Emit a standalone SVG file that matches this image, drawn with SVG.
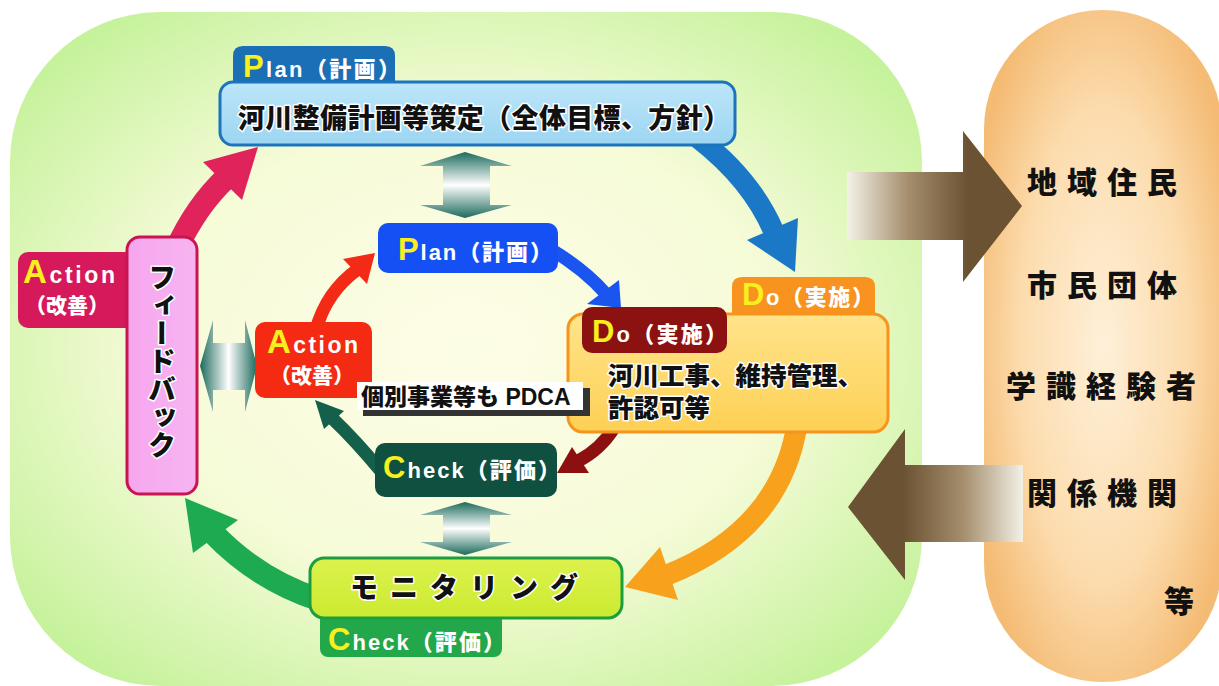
<svg xmlns="http://www.w3.org/2000/svg" width="1219" height="686" viewBox="0 0 1219 686">
<defs>
<radialGradient id="bgG" cx="0.5" cy="0.5" r="0.62">
<stop offset="0" stop-color="#fdfde6"/><stop offset="0.55" stop-color="#f6fbd8"/><stop offset="1" stop-color="#c6f29c"/>
</radialGradient>
<radialGradient id="pillG" cx="0.5" cy="0.5" r="0.58">
<stop offset="0" stop-color="#fef0d8"/><stop offset="0.6" stop-color="#fcdcae"/><stop offset="1" stop-color="#f4bb74"/>
</radialGradient>
<linearGradient id="brR" gradientUnits="userSpaceOnUse" x1="848" y1="0" x2="968" y2="0">
<stop offset="0" stop-color="#f3f0e6"/><stop offset="0.5" stop-color="#a48e6c"/><stop offset="1" stop-color="#6b5232"/>
</linearGradient>
<linearGradient id="brL" gradientUnits="userSpaceOnUse" x1="903" y1="0" x2="1023" y2="0">
<stop offset="0" stop-color="#6b5232"/><stop offset="0.5" stop-color="#a48e6c"/><stop offset="1" stop-color="#f3f0e6"/>
</linearGradient>
<linearGradient id="dvT" gradientUnits="userSpaceOnUse" x1="0" y1="152" x2="0" y2="218">
<stop offset="0" stop-color="#1d6b5c"/><stop offset="0.5" stop-color="#ffffff"/><stop offset="1" stop-color="#1d6b5c"/>
</linearGradient>
<linearGradient id="dvB" gradientUnits="userSpaceOnUse" x1="0" y1="502" x2="0" y2="555">
<stop offset="0" stop-color="#1d6b5c"/><stop offset="0.5" stop-color="#ffffff"/><stop offset="1" stop-color="#1d6b5c"/>
</linearGradient>
<linearGradient id="dh" gradientUnits="userSpaceOnUse" x1="200" y1="0" x2="257" y2="0">
<stop offset="0" stop-color="#1d6b5c"/><stop offset="0.5" stop-color="#ffffff"/><stop offset="1" stop-color="#1d6b5c"/>
</linearGradient>
<linearGradient id="planG" x1="0" y1="0" x2="0" y2="1">
<stop offset="0" stop-color="#bde6f9"/><stop offset="1" stop-color="#9cd5f2"/>
</linearGradient>
<linearGradient id="doG" x1="0" y1="0" x2="0" y2="1">
<stop offset="0" stop-color="#ffe48a"/><stop offset="1" stop-color="#fdd055"/>
</linearGradient>
<linearGradient id="fbG" x1="0" y1="0" x2="1" y2="0">
<stop offset="0" stop-color="#f6a6ee"/><stop offset="1" stop-color="#f7b4f1"/>
</linearGradient>
<linearGradient id="monG" x1="0" y1="0" x2="0" y2="1">
<stop offset="0" stop-color="#ddf24e"/><stop offset="1" stop-color="#cbea30"/>
</linearGradient>
</defs>
<style>
.t{font-family:"Liberation Sans","Noto Sans CJK JP",sans-serif;font-weight:900}
.jp{font-family:"Noto Sans CJK JP",sans-serif;font-weight:900}
.w{fill:#fff}
.cap{fill:#f8ef1e}
.halo{fill:#111;stroke:#fff;stroke-width:3;paint-order:stroke;stroke-linejoin:round}
.side{fill:#111;font-size:30px;letter-spacing:10px}
.shaft{fill:none;stroke-linecap:butt}
</style>

<g id="background">
<rect x="10" y="12" width="912" height="674" rx="150" fill="url(#bgG)"/>
</g>

<g id="stakeholders">
<rect x="984" y="10" width="238" height="672" rx="119" fill="url(#pillG)"/>
<text class="jp side" x="1027" y="193">地域住民</text>
<text class="jp side" x="1027" y="296">市民団体</text>
<text class="jp side" x="1006" y="397">学識経験者</text>
<text class="jp side" x="1027" y="504">関係機関</text>
<text class="jp side" x="1164" y="612">等</text>
</g>

<g id="connectors">
<polygon points="847,172 963,172 963,131 1022,206 963,282 963,240 847,240" fill="url(#brR)"/>
<polygon points="1023,465 905,465 905,429 848,507 905,580 905,542 1023,542" fill="url(#brL)"/>

<polygon points="465,152 512,166 490,166 490,205 512,205 465,218 420,205 443,205 443,166 420,166" fill="url(#dvT)"/>
<polygon points="465,502 512,515 490,515 490,542 512,542 465,555 420,542 443,542 443,515 420,515" fill="url(#dvB)"/>
<polygon points="200,366 213,320 213,343 245,343 245,320 257,366 245,412 245,390 213,390 213,412" fill="url(#dh)"/>

<path class="shaft" d="M176,250 Q196,206 227,177" stroke="#e0235b" stroke-width="23"/>
<polygon points="258,147 203,162 242,200" fill="#e0235b"/>
<path class="shaft" d="M698,138 Q752,180 774,232" stroke="#1a78c6" stroke-width="21"/>
<polygon points="795,272 747,240 798,218" fill="#1a78c6"/>
<path class="shaft" d="M797,425 Q780,530 667,575" stroke="#f8a11c" stroke-width="21"/>
<polygon points="625,587 660,547 678,600" fill="#f8a11c"/>
<path class="shaft" d="M320,600 Q258,580 213,533" stroke="#1eaa50" stroke-width="23"/>
<polygon points="185,498 193,553 238,520" fill="#1eaa50"/>

<path class="shaft" d="M316,330 Q326,292 358,269" stroke="#f22a16" stroke-width="13"/>
<polygon points="375,253 343,259 367,284" fill="#f22a16"/>
<path class="shaft" d="M552,250 Q585,270 606,294" stroke="#1a55f0" stroke-width="13"/>
<polygon points="621,308 587,304 619,280" fill="#1a55f0"/>
<path class="shaft" d="M614,428 Q600,450 578,461" stroke="#8c1010" stroke-width="13"/>
<polygon points="557,473 572,447 589,473" fill="#8c1010"/>
<path class="shaft" d="M380,470 Q355,440 333,419" stroke="#15604a" stroke-width="13"/>
<polygon points="315,400 324,429 344,411" fill="#15604a"/>
</g>

<g id="plan-outer">
<path d="M233,86 V56 Q233,46 243,46 H385 Q395,46 395,56 V86 Z" fill="#1a6fb5"/>
<rect x="220" y="82" width="515" height="63" rx="13" fill="url(#planG)" stroke="#1b74bc" stroke-width="3"/>
<text class="t w" x="243" y="77" font-size="22" textLength="157" lengthAdjust="spacing"><tspan class="cap" font-size="31">P</tspan>lan（計画）</text>
<text class="jp halo" x="238" y="128" font-size="27" textLength="492" lengthAdjust="spacing">河川整備計画等策定（全体目標、方針）</text>
</g>

<g id="action-outer">
<rect x="18" y="252" width="130" height="76" rx="10" fill="#d6195a"/>
<text class="t w" x="23" y="283" font-size="23" textLength="92" lengthAdjust="spacing"><tspan class="cap" font-size="33">A</tspan>ction</text>
<text class="jp w" x="67" y="313" font-size="21" text-anchor="middle">（改善）</text>
</g>

<g id="feedback">
<rect x="127" y="237" width="70" height="257" rx="13" fill="url(#fbG)" stroke="#c81450" stroke-width="3"/>
<text class="jp halo" x="162" y="263" font-size="28" style="writing-mode:vertical-rl">フィードバック</text>
</g>

<g id="do-outer">
<path d="M732,318 V287 Q732,277 742,277 H865 Q875,277 875,287 V318 Z" fill="#f7931e"/>
<rect x="568" y="314" width="320" height="118" rx="15" fill="url(#doG)" stroke="#f7941d" stroke-width="3"/>
<text class="t w" x="742" y="305" font-size="22" textLength="132" lengthAdjust="spacing"><tspan class="cap" font-size="31">D</tspan>o（実施）</text>
<text class="t halo" x="608" y="385" font-size="25.5">河川工事、維持管理、</text>
<text class="t halo" x="608" y="417" font-size="25.5">許認可等</text>
</g>

<g id="do-inner">
<rect x="582" y="307" width="145" height="46" rx="10" fill="#8c1111"/>
<text class="t w" x="592" y="342" font-size="22" textLength="135" lengthAdjust="spacing"><tspan class="cap" font-size="31">D</tspan>o（実施）</text>
</g>

<g id="plan-inner">
<rect x="378" y="223" width="180" height="50" rx="10" fill="#1550f5"/>
<text class="t w" x="398" y="260" font-size="22" textLength="154" lengthAdjust="spacing"><tspan class="cap" font-size="31">P</tspan>lan（計画）</text>
</g>

<g id="action-inner">
<rect x="255" y="322" width="117" height="76" rx="10" fill="#f42a12"/>
<text class="t w" x="267" y="353" font-size="23" textLength="91" lengthAdjust="spacing"><tspan class="cap" font-size="33">A</tspan>ction</text>
<text class="jp w" x="312" y="383" font-size="21" text-anchor="middle">（改善）</text>
</g>

<g id="check-inner">
<rect x="375" y="443" width="182" height="54" rx="10" fill="#0f5040"/>
<text class="t w" x="383" y="478" font-size="22" textLength="177" lengthAdjust="spacing"><tspan class="cap" font-size="31">C</tspan>heck（評価）</text>
</g>

<g id="pdca-label">
<rect x="363" y="388" width="227" height="28" fill="#333"/>
<rect x="357" y="382" width="226" height="28" fill="#fff"/>
<text class="t" x="361" y="405" font-size="23" fill="#111">個別事業等も PDCA</text>
</g>

<g id="monitoring">
<rect x="320" y="600" width="182" height="57" rx="8" fill="#22a84a"/>
<rect x="310" y="558" width="312" height="60" rx="14" fill="url(#monG)" stroke="#1c9e3f" stroke-width="3"/>
<text class="jp halo" x="350" y="598" font-size="28" letter-spacing="12">モニタリング</text>
<text class="t w" x="328" y="650" font-size="22" textLength="177" lengthAdjust="spacing"><tspan class="cap" font-size="31">C</tspan>heck（評価）</text>
</g>
</svg>
